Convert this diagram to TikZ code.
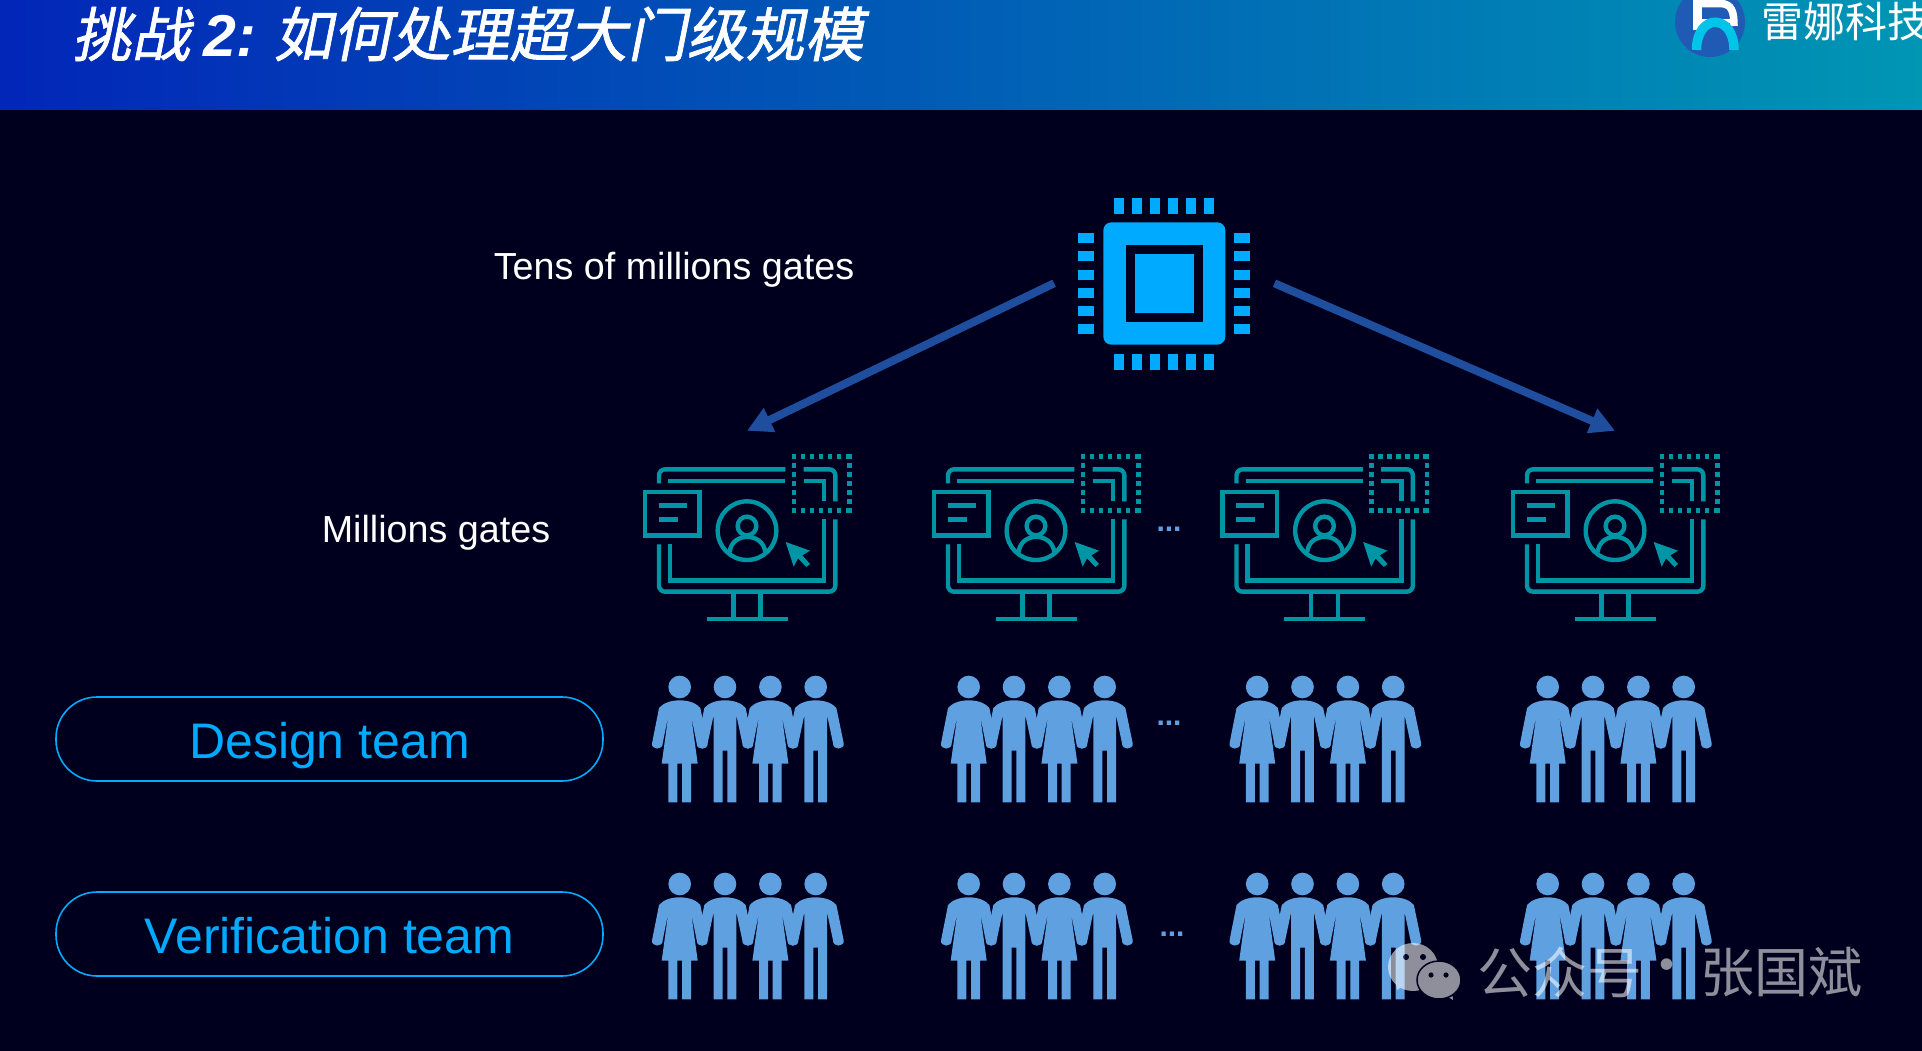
\documentclass[tikz,border=0pt]{standalone}
\usepackage{fontspec}
\setmainfont{Liberation Sans}
\newfontfamily\cjkfont{Noto Sans CJK SC}
\newfontfamily\titlefont[FakeSlant=0.2,FakeBold=1.2]{Noto Sans CJK SC}
\usepackage{xcolor}
\usepackage{tikz}
\usetikzlibrary{positioning, shapes, calc, arrows.meta}

\definecolor{pagebg}{RGB}{0,0,30}
\definecolor{chipblue}{RGB}{0,170,255}
\definecolor{screenteal}{RGB}{0,149,165}
\definecolor{peopleblue}{RGB}{95,160,224}
\definecolor{arrowblue}{RGB}{31,78,158}
\definecolor{logoblue}{RGB}{31,91,181}
\definecolor{logocyan}{RGB}{0,196,232}

\tikzset{
  slot/.style={inner sep=0pt, minimum width=#1, minimum height=198pt},
  gatelabel/.style={text=white, font=\fontsize{37.7}{42}\selectfont},
  teampill/.style={draw=chipblue, line width=1.6pt, rounded corners=41pt, minimum width=547pt,
    minimum height=84pt, text=chipblue, text height=40pt, text depth=2pt,
    font=\fontsize{50}{54}\selectfont},
  splitarrow/.style={-{Triangle[length=25pt,width=25pt]}, arrowblue, line width=8pt},
  dotsmark/.style={text=peopleblue, font=\fontsize{30}{32}\bfseries\selectfont, inner sep=0pt},
  marktext/.style={anchor=west, text=white, text opacity=0.56, inner sep=0pt,
    font=\fontsize{55}{60}\selectfont\cjkfont},
  screenline/.style={draw=screenteal, line width=4.4pt},
  pics/monitor/.style={code={
    % coordinates of the icon, three units to the pixel
    \begin{scope}[x=0.3333pt, y=-0.3333pt, shift={(-382,-300)}]
      \draw[screenline, rounded corners=6pt] (118,160) -- (118,118) -- (497,118);
      \draw[screenline, rounded corners=6pt] (552,118) -- (647,118) -- (647,214);
      \draw[screenline, rounded corners=6pt] (647,268) -- (647,485) -- (118,485) -- (118,343);
      \draw[screenline] (145,153) -- (497,153);
      \draw[screenline] (552,153) -- (613,153) -- (613,214);
      \draw[screenline] (613,268) -- (613,452) -- (151,452) -- (151,343);
      \draw[screenline] (341,485) -- (341,567);
      \draw[screenline] (423,485) -- (423,567);
      \draw[screenline] (261,567) -- (504,567);
      \draw[screenline] (76,186) rectangle (240,317);
      \draw[screenline] (117,226) -- (201,226);
      \draw[screenline] (117,268) -- (174,268);
      \draw[screenline] (382,302) circle (88);
      \draw[screenline] (382,288) circle (28);
      \draw[screenline] (330,367) .. controls (335,305) and (430,305) .. (437,367);
      \fill[screenteal] (498,336) -- (571,362) -- (548,376) -- (571,402) -- (560,411)
        -- (535,385) -- (522,410) -- cycle;
      % dotted corner
      \foreach \i in {0,...,6} {
        \fill[screenteal] (516+\i*27,72) rectangle ++(14,14);
        \fill[screenteal] (516+\i*27,235) rectangle ++(14,14);
        \fill[screenteal] (516,72+\i*27) rectangle ++(14,14);
        \fill[screenteal] (682,72+\i*27) rectangle ++(14,14);
      }
    \end{scope}
  }},
  pics/woman/.style={code={
    \begin{scope}[x=0.3333pt, y=-0.3333pt]
      \fill[peopleblue] (0,771) circle (34);
      \fill[peopleblue] (0,811) .. controls (-28,811) and (-50,820) .. (-62,834)
        -- (-83,940) .. controls (-86,960) and (-50,962) .. (-51,940) -- (-34,855)
        -- (-54,1001) -- (-34,1001) -- (-34,1117) -- (-7,1117) -- (-7,1001) -- (7,1001)
        -- (7,1117) -- (34,1117) -- (34,1001) -- (54,1001) -- (34,855)
        -- (51,940) .. controls (50,962) and (86,960) .. (83,940)
        -- (62,834) .. controls (50,820) and (28,811) .. (0,811) -- cycle;
    \end{scope}
  }},
  pics/man/.style={code={
    \begin{scope}[x=0.3333pt, y=-0.3333pt]
      \fill[peopleblue] (0,771) circle (34);
      \fill[peopleblue] (0,811) .. controls (-28,811) and (-50,820) .. (-62,834)
        -- (-84,940) .. controls (-87,960) and (-51,962) .. (-52,940) -- (-34,855)
        -- (-34,1117) -- (-7,1117) -- (-7,962) -- (7,962)
        -- (7,1117) -- (34,1117) -- (34,855)
        -- (52,940) .. controls (51,962) and (87,960) .. (84,940)
        -- (62,834) .. controls (50,820) and (28,811) .. (0,811) -- cycle;
    \end{scope}
  }},
  pics/team/.style={code={
    \pic at (0,0) {woman};
    \pic at (45.3,0) {man};
    \pic at (90.7,0) {woman};
    \pic at (136,0) {man};
  }}
}

\begin{document}
\begin{tikzpicture}[x=1pt, y=-1pt]
  \useasboundingbox (0,0) rectangle (1922,1050);
  \fill[pagebg] (-3,-3) rectangle (1925,1053);

  \begin{scope}
    \clip (0,0) rectangle (1922,1050);

    % Title bar
    \shade[left color={rgb,255:red,2;green,38;blue,184}, right color={rgb,255:red,0;green,150;blue,180}]
      (0,0) rectangle (1922,109.5);
    \node[anchor=west, text=white, inner sep=0pt] (title) at (72,34)
      {\fontsize{59}{64}\selectfont\titlefont 挑战 {\rmfamily\bfseries\itshape 2:} 如何处理超大门级规模};

    % Logo
    \fill[logoblue] (1710,22) circle (35);
    \draw[white, line width=9pt] (1697,0) -- (1697,30);
    \draw[white, line width=7.5pt] (1697,3.5) -- (1720,3.5) .. controls (1732,3.5) and (1734,12) .. (1734,26);
    \draw[white, line width=4pt] (1697,21) -- (1730,21);
    \draw[logocyan, line width=9.5pt] (1696.5,50) .. controls (1696.5,13) and (1734,13) .. (1734,50);
    \node[anchor=west, text=white, inner sep=0pt] (brand) at (1761,22)
      {\fontsize{42}{46}\selectfont\cjkfont 雷娜科技};
  \end{scope}

  % Chip
  \node[inner sep=0pt, minimum size=220pt] (chip) at (1164.3,283.3) {};
  \begin{scope}[shift={(1050,180)}, x=0.3333pt, y=-0.3333pt]
    \fill[chipblue, rounded corners=8pt] (160,127) rectangle (526,494);
    \fill[pagebg] (228,195) rectangle (458,426);
    \fill[chipblue] (255,222) rectangle (432,399);
    \foreach \i in {192,246,300,354,408,462} {
      \fill[chipblue] (\i,54) rectangle ++(30,48);
      \fill[chipblue] (\i,522) rectangle ++(30,48);
    }
    \foreach \i in {159,213,270,324,378,432} {
      \fill[chipblue] (84,\i) rectangle ++(48,30);
      \fill[chipblue] (552,\i) rectangle ++(48,30);
    }
  \end{scope}

  % Monitors and both teams
  \foreach \i/\dx in {1/0, 2/289, 3/577.5, 4/868} {
    \node[slot=190pt] (mon\i) at (747+\dx,530) {};
    \pic at (mon\i) {monitor};
    \pic at (679.7+\dx,430) {team};
    \pic at (679.7+\dx,627) {team};
  }

  % Arrows from the big chip
  \draw[splitarrow] (chip.west) -- (mon1.north);
  \draw[splitarrow] (chip.east) -- (mon4.north);

  \node[gatelabel] (tens) at (674,270) {Tens of millions gates};
  \node[gatelabel] (millions) at (436,532.5) {Millions gates};
  \node[teampill] (design) at (329.5,739) {Design team};
  \node[teampill] (verif) at (329.5,934) {Verification team};

  \node[dotsmark] (dotsa) at (1169,529) {...};
  \node[dotsmark] (dotsb) at (1169,723) {...};
  \node[dotsmark] (dotsc) at (1172,934) {...};

  % Watermark
  \begin{scope}[transparency group, opacity=0.56]
    \fill[white] (1413,967) ellipse (25 and 24);
    \fill[white] (1396,984) -- (1397,990) -- (1406,984) -- cycle;
    \fill[white] (1445,995) -- (1453,1000) -- (1452,990) -- cycle;
    \filldraw[draw=pagebg, fill=white, line width=1.5pt] (1439,980) ellipse (22 and 19);
    \fill[pagebg] (1406,957) circle (3) (1423,957) circle (3)
      (1431,975) circle (2.6) (1446,975) circle (2.6);
  \end{scope}
  \node[marktext] (marka) at (1477,972) {公众号};
  \node[marktext, anchor=center] (markb) at (1667,972) {·};
  \node[marktext, font=\fontsize{54}{60}\selectfont\cjkfont] (markc) at (1700,972) {张国斌};
\end{tikzpicture}
\end{document}
